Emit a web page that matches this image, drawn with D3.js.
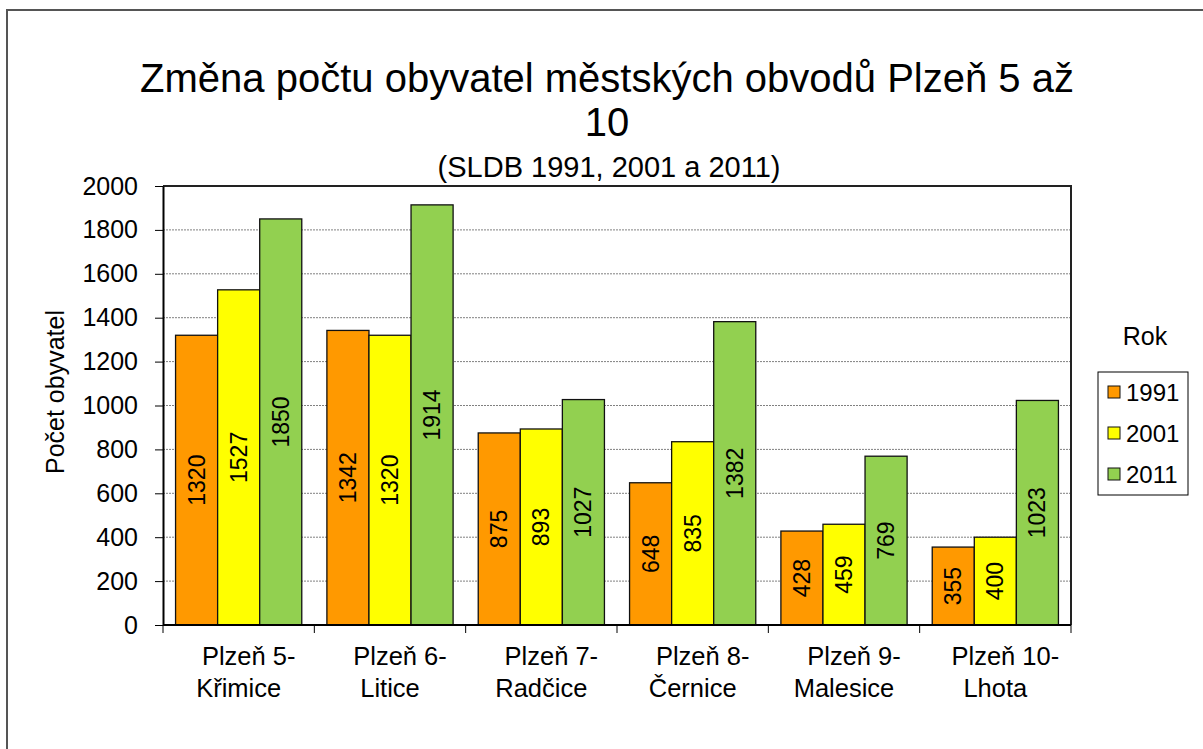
<!DOCTYPE html>
<html>
<head>
<meta charset="utf-8">
<script src="https://cdn.jsdelivr.net/npm/d3@7"></script>
<style>
  body { margin: 0; background: #fff; }
  svg text { font-family: "Liberation Sans", Arial, sans-serif; fill: #000; }
</style>
</head>
<body>
<div id="chart"></div>
<script>
// data
var districts = [
  ['Plzeň 5-', 'Křimice'],
  ['Plzeň 6-', 'Litice'],
  ['Plzeň 7-', 'Radčice'],
  ['Plzeň 8-', 'Černice'],
  ['Plzeň 9-', 'Malesice'],
  ['Plzeň 10-', 'Lhota']
];
var years = ['1991', '2001', '2011'];
var pop1991 = [1320, 1342, 875, 648, 428, 355];
var pop2001 = [1527, 1320, 893, 835, 459, 400];
var pop2011 = [1850, 1914, 1027, 1382, 769, 1023];
var yTicks = [0, 200, 400, 600, 800, 1000, 1200, 1400, 1600, 1800, 2000];
var colors = ['#FF9900', '#FFFF00', '#92D050'];

var series = [pop1991, pop2001, pop2011];

var width = 1203, height = 749;
var plot = { left: 163, right: 1071, top: 186, bottom: 625 };

var svg = d3.select('#chart').append('svg')
  .attr('width', width)
  .attr('height', height);

// outer border (runs off the right and bottom edges)
svg.append('rect')
  .attr('x', 7).attr('y', 10)
  .attr('width', 1210).attr('height', 760)
  .attr('fill', 'none')
  .attr('stroke', '#555')
  .attr('stroke-width', 2);

var x0 = d3.scaleBand()
  .domain(d3.range(districts.length))
  .range([plot.left, plot.right]);

var groupPad = x0.bandwidth() * 0.083;
var x1 = d3.scaleBand()
  .domain(d3.range(years.length))
  .range([groupPad, x0.bandwidth() - groupPad]);

var y = d3.scaleLinear()
  .domain([0, 2000])
  .range([plot.bottom, plot.top]);

// gridlines
svg.append('g')
  .selectAll('line')
  .data(yTicks.filter(d => d > 0 && d < 2000))
  .enter()
  .append('line')
  .attr('x1', plot.left).attr('x2', plot.right)
  .attr('y1', d => y(d)).attr('y2', d => y(d))
  .attr('stroke', '#808080')
  .attr('stroke-width', 1)
  .attr('stroke-dasharray', '2,1');

// plot area frame (top and right)
svg.append('path')
  .attr('d', 'M' + plot.left + ',' + plot.top + 'H' + plot.right + 'V' + plot.bottom)
  .attr('fill', 'none')
  .attr('stroke', '#222')
  .attr('stroke-width', 2);

// bars
var bars = [];
series.forEach(function(vals, si) {
  vals.forEach(function(v, ci) {
    bars.push({ si: si, ci: ci, v: v });
  });
});

svg.append('g')
  .selectAll('rect')
  .data(bars)
  .enter()
  .append('rect')
  .attr('x', d => x0(d.ci) + x1(d.si))
  .attr('y', d => y(d.v))
  .attr('width', x1.bandwidth())
  .attr('height', d => y(0) - y(d.v))
  .attr('fill', d => colors[d.si])
  .attr('stroke', '#111')
  .attr('stroke-width', 1.3);

// bar value labels, rotated
svg.append('g')
  .selectAll('text')
  .data(bars)
  .enter()
  .append('text')
  .attr('transform', function(d) {
    var cx = x0(d.ci) + x1(d.si) + x1.bandwidth() / 2;
    var cy = (y(d.v) + y(0)) / 2;
    return 'translate(' + cx + ',' + cy + ') rotate(-90)';
  })
  .attr('text-anchor', 'middle')
  .attr('dy', '0.35em')
  .style('font-size', '23px')
  .text(d => d.v);

// y axis
var yAxis = svg.append('g')
  .attr('transform', 'translate(' + plot.left + ',0)')
  .call(d3.axisLeft(y).tickValues(yTicks).tickFormat(d3.format('d'))
    .tickSize(8).tickPadding(17).tickSizeOuter(0));
yAxis.select('.domain').attr('stroke', '#000').attr('stroke-width', 2);
yAxis.selectAll('.tick line').attr('stroke', '#000');
yAxis.selectAll('.tick text')
  .style('font-size', '25px')
  .attr('font-family', null);

// x axis
var xAxis = svg.append('g')
  .attr('transform', 'translate(0,' + plot.bottom + ')');
xAxis.append('line')
  .attr('x1', plot.left).attr('x2', plot.right)
  .attr('stroke', '#000').attr('stroke-width', 2);
xAxis.selectAll('line.tk')
  .data(d3.range(districts.length + 1))
  .enter()
  .append('line')
  .attr('class', 'tk')
  .attr('x1', d => d < districts.length ? x0(d) : plot.right)
  .attr('x2', d => d < districts.length ? x0(d) : plot.right)
  .attr('y1', 0).attr('y2', 8)
  .attr('stroke', '#000');

var catLabels = xAxis.selectAll('text.cat')
  .data(districts)
  .enter()
  .append('text')
  .attr('class', 'cat')
  .attr('text-anchor', 'middle')
  .style('font-size', '25.5px');
catLabels.append('tspan')
  .attr('x', (d, i) => x0(i) + x0.bandwidth() / 2 + 10)
  .attr('y', 40)
  .text(d => d[0]);
catLabels.append('tspan')
  .attr('x', (d, i) => x0(i) + x0.bandwidth() / 2)
  .attr('y', 72)
  .text(d => d[1]);

// y axis title
svg.append('text')
  .attr('transform', 'translate(64,392) rotate(-90)')
  .attr('text-anchor', 'middle')
  .style('font-size', '25px')
  .text('Počet obyvatel');

// titles
svg.append('text')
  .attr('x', 607).attr('y', 92)
  .attr('text-anchor', 'middle')
  .style('font-size', '40px')
  .text('Změna počtu obyvatel městských obvodů Plzeň 5 až');
svg.append('text')
  .attr('x', 607).attr('y', 136)
  .attr('text-anchor', 'middle')
  .style('font-size', '40px')
  .text('10');
svg.append('text')
  .attr('x', 609).attr('y', 177)
  .attr('text-anchor', 'middle')
  .style('font-size', '29px')
  .text('(SLDB 1991, 2001 a 2011)');

// legend
svg.append('text')
  .attr('x', 1145).attr('y', 345)
  .attr('text-anchor', 'middle')
  .style('font-size', '25px')
  .text('Rok');

svg.append('rect')
  .attr('x', 1098).attr('y', 372)
  .attr('width', 90).attr('height', 123)
  .attr('fill', '#fff')
  .attr('stroke', '#000')
  .attr('stroke-width', 1);

var leg = svg.append('g')
  .selectAll('g')
  .data(years)
  .enter()
  .append('g')
  .attr('transform', (d, i) => 'translate(1108,' + (392 + i * 41) + ')');
leg.append('rect')
  .attr('x', 0).attr('y', -6)
  .attr('width', 12).attr('height', 12)
  .attr('fill', (d, i) => colors[i])
  .attr('stroke', '#111')
  .attr('stroke-width', 1);
leg.append('text')
  .attr('x', 18).attr('y', 8.5)
  .style('font-size', '24px')
  .text(d => d);
</script>
</body>
</html>
